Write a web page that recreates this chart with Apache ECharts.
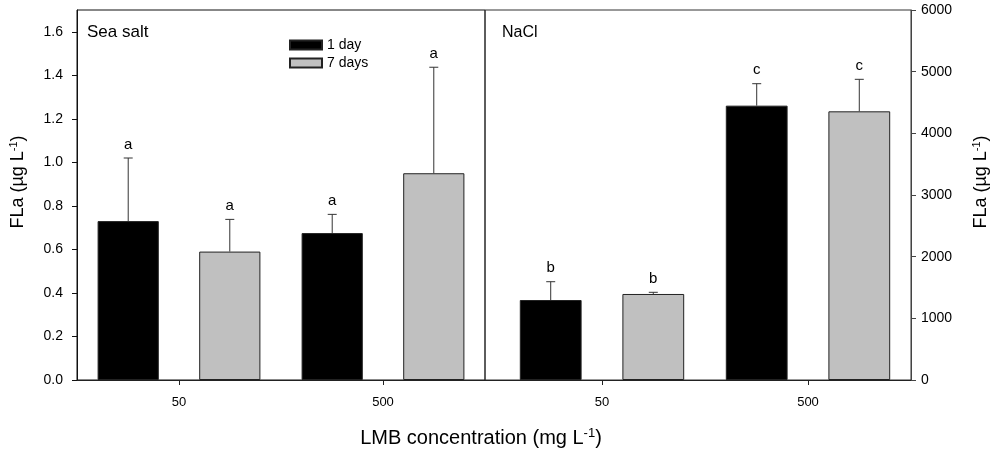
<!DOCTYPE html>
<html>
<head>
<meta charset="utf-8">
<script src="https://cdn.jsdelivr.net/npm/echarts@6/dist/echarts.min.js"></script>
<style>
  html, body { margin: 0; padding: 0; background: #fff; }
  #chart { width: 999px; height: 451px; }
</style>
</head>
<body>
<div id="chart"></div>
<script>
// LMB concentration groups
const categories = ['50', '500'];
const seriesNames = ['1 day', '7 days'];

// Sea salt panel, FLa (µg L-1)
const seaSalt1Day = [0.73, 0.675];
const seaSalt1DayErr = [0.29, 0.086];
const seaSalt7Days = [0.59, 0.95];
const seaSalt7DaysErr = [0.148, 0.487];
const seaSalt1DayLetters = ['a', 'a'];
const seaSalt7DaysLetters = ['a', 'a'];

// NaCl panel, FLa (µg L-1)
const nacl1Day = [1297, 4449];
const nacl1DayErr = [297, 356];
const nacl7Days = [1395, 4357];
const nacl7DaysErr = [27, 519];
const nacl1DayLetters = ['b', 'c'];
const nacl7DaysLetters = ['b', 'c'];

// Axis ticks
const leftTicks = [0, 0.2, 0.4, 0.6, 0.8, 1.0, 1.2, 1.4, 1.6];
const leftMax = 1.7;
const rightMax = 6000;
const rightInterval = 1000;

const FONT = "'Liberation Sans', Arial, sans-serif";
const BAR_RATIO = 0.30;
const GAP_RATIO = 0.66;
const COLORS = ['#000000', '#c0c0c0'];

const chart = echarts.init(document.getElementById('chart'));

// Upward error whisker with cap, plus the significance letter above it
function errorRender(sign, errs, letters) {
  return function (params, api) {
    const i = params.dataIndex;
    const cat = api.value(0);
    const v = api.value(1);
    const e = errs[i];
    const band = api.size([1, 0])[0];
    const bw = band * BAR_RATIO;
    const dx = sign * bw * (1 + GAP_RATIO) / 2;
    const base = api.coord([cat, v]);
    const top = api.coord([cat, v + e]);
    const x = base[0] + dx;
    const cap = 4.5;
    const lineStyle = { stroke: '#333', lineWidth: 1 };
    return {
      type: 'group',
      children: [
        { type: 'line', shape: { x1: x, y1: base[1], x2: x, y2: top[1] }, style: lineStyle },
        { type: 'line', shape: { x1: x - cap, y1: top[1], x2: x + cap, y2: top[1] }, style: lineStyle },
        {
          type: 'text', x: x, y: top[1] - 6,
          style: { text: letters[i], align: 'center', verticalAlign: 'bottom', fontSize: 15, fill: '#000', fontFamily: FONT }
        }
      ]
    };
  };
}

function barSeries(name, values, axisIdx, colorIdx) {
  return {
    name: name,
    type: 'bar',
    xAxisIndex: axisIdx,
    yAxisIndex: axisIdx,
    data: values,
    barWidth: (BAR_RATIO * 100) + '%',
    barGap: (GAP_RATIO * 100) + '%',
    itemStyle: { color: COLORS[colorIdx], borderColor: '#222', borderWidth: 1 },
    emphasis: { disabled: true },
    z: 2
  };
}

function errSeries(values, errs, letters, axisIdx, sign) {
  return {
    type: 'custom',
    xAxisIndex: axisIdx,
    yAxisIndex: axisIdx,
    data: values.map((v, i) => [i, v]),
    encode: { x: 0, y: 1 },
    renderItem: errorRender(sign, errs, letters),
    silent: true,
    z: 3
  };
}

const yName = '{n|FLa (µg L}{s|-1}{n|)}';
const nameRich = {
  n: { fontSize: 18, fontFamily: FONT, color: '#000' },
  s: { fontSize: 11, fontFamily: FONT, color: '#000', verticalAlign: 'top', padding: [0, 0, 9, 0] }
};

function catAxis(gridIndex) {
  return {
    type: 'category',
    gridIndex: gridIndex,
    data: categories,
    axisLine: { show: true, lineStyle: { color: '#222', width: 1 } },
    axisTick: { show: true, alignWithLabel: true, length: 5, lineStyle: { color: '#222' } },
    axisLabel: { fontSize: 13, fontFamily: FONT, color: '#000', margin: 16 },
    splitLine: { show: false }
  };
}

const option = {
  animation: false,
  backgroundColor: '#fff',
  legend: {
    data: seriesNames,
    orient: 'vertical',
    left: 284,
    top: 33,
    icon: 'rect',
    itemWidth: 32,
    itemHeight: 9,
    itemGap: 4,
    textStyle: { fontSize: 14, fontFamily: FONT, color: '#000' },
    selectedMode: false
  },
  grid: [
    { left: 77, width: 408, top: 10, height: 370, show: true, borderColor: '#111', borderWidth: 1, backgroundColor: 'transparent' },
    { left: 499, right: 88, top: 10, height: 370 },
    { left: 485, right: 88, top: 10, height: 370, show: true, borderColor: '#333', borderWidth: 1, backgroundColor: 'transparent' }
  ],
  xAxis: [
    catAxis(0),
    catAxis(1),
    {
      type: 'value', gridIndex: 2, min: 0, max: 1,
      axisLine: { show: true, lineStyle: { color: '#222' } },
      axisTick: { show: false }, axisLabel: { show: false }, splitLine: { show: false }
    }
  ],
  yAxis: [
    {
      type: 'value',
      gridIndex: 0,
      min: 0,
      max: leftMax,
      axisLine: { show: true, lineStyle: { color: '#111' } },
      axisTick: { show: true, length: 5, customValues: leftTicks, lineStyle: { color: '#111' } },
      axisLabel: { customValues: leftTicks, formatter: v => v.toFixed(1), fontSize: 14, fontFamily: FONT, color: '#000', margin: 14 },
      splitLine: { show: false },
      name: yName,
      nameLocation: 'middle',
      nameRotate: 90,
      nameGap: 49,
      nameTextStyle: { rich: nameRich, padding: [0, 0, 0, 26] }
    },
    {
      type: 'value',
      gridIndex: 1,
      position: 'right',
      min: 0,
      max: rightMax,
      interval: rightInterval,
      axisLine: { show: true, lineStyle: { color: '#444' } },
      axisTick: { show: true, length: 5, lineStyle: { color: '#444' } },
      axisLabel: { formatter: v => String(v), fontSize: 14, fontFamily: FONT, color: '#000', margin: 10 },
      splitLine: { show: false },
      name: yName,
      nameLocation: 'middle',
      nameRotate: 90,
      nameGap: 60,
      nameTextStyle: { rich: nameRich, padding: [0, 0, 0, 26] }
    },
    { type: 'value', gridIndex: 2, min: 0, max: 1, show: false }
  ],
  graphic: [
    { type: 'text', left: 87, top: 24, style: { text: 'Sea salt', fontSize: 17, fontFamily: FONT, fill: '#000' } },
    { type: 'text', left: 502, top: 25, style: { text: 'NaCl', fontSize: 16, fontFamily: FONT, fill: '#000' } },
    {
      type: 'text', x: 481, y: 438,
      style: {
        text: '{n|LMB concentration (mg L}{s|-1}{n|)}',
        align: 'center', verticalAlign: 'middle',
        rich: {
          n: { fontSize: 20, fontFamily: FONT, fill: '#000' },
          s: { fontSize: 13, fontFamily: FONT, fill: '#000', verticalAlign: 'top', padding: [0, 0, 10, 0] }
        }
      }
    }
  ],
  series: [
    barSeries(seriesNames[0], seaSalt1Day, 0, 0),
    barSeries(seriesNames[1], seaSalt7Days, 0, 1),
    barSeries(seriesNames[0], nacl1Day, 1, 0),
    barSeries(seriesNames[1], nacl7Days, 1, 1),
    errSeries(seaSalt1Day, seaSalt1DayErr, seaSalt1DayLetters, 0, -1),
    errSeries(seaSalt7Days, seaSalt7DaysErr, seaSalt7DaysLetters, 0, 1),
    errSeries(nacl1Day, nacl1DayErr, nacl1DayLetters, 1, -1),
    errSeries(nacl7Days, nacl7DaysErr, nacl7DaysLetters, 1, 1)
  ]
};

chart.setOption(option);
</script>
</body>
</html>
